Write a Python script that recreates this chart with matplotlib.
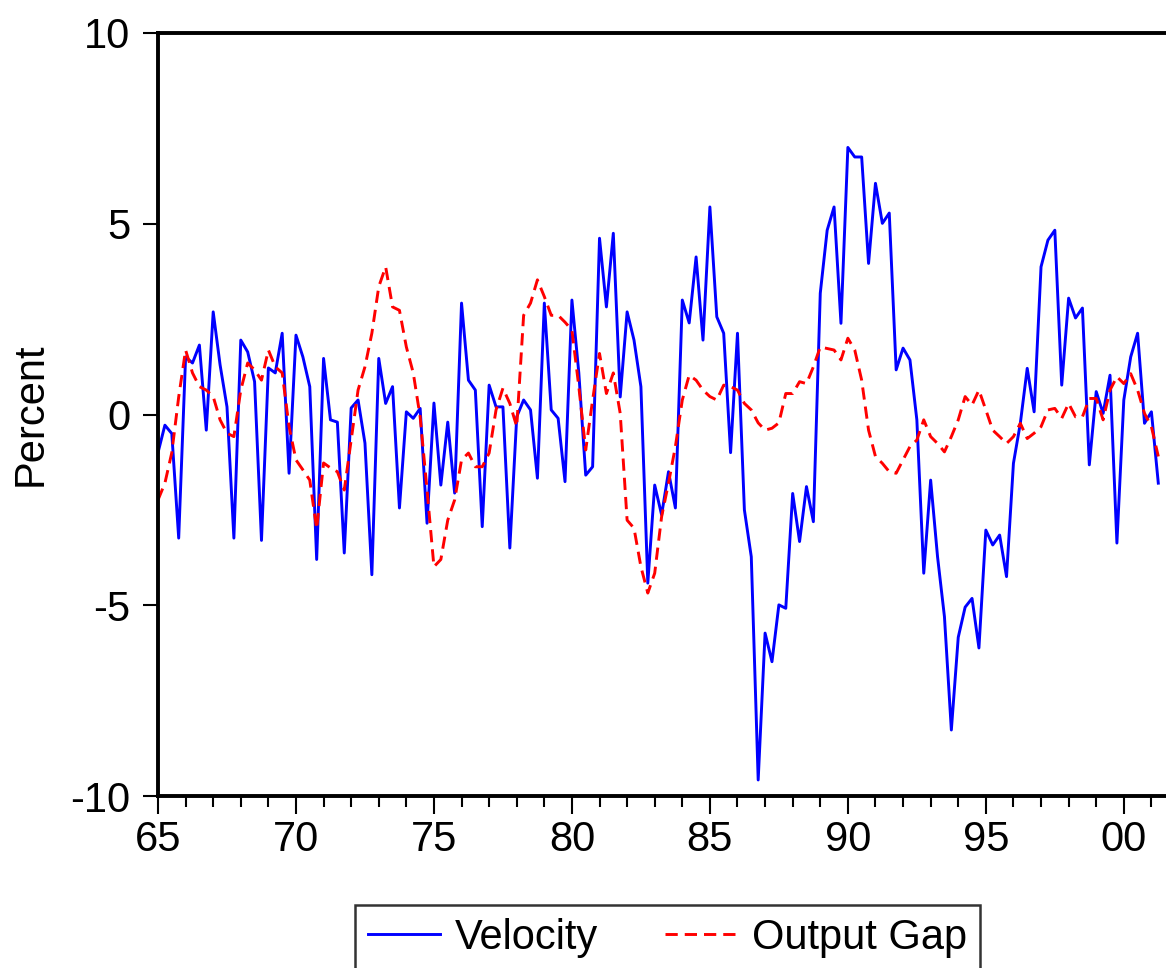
import numpy as np
import matplotlib
matplotlib.use('Agg')
import matplotlib.pyplot as plt

plt.rcParams['font.family'] = ['Liberation Sans', 'DejaVu Sans']

# quarterly data, 1965Q1 - 2001Q2
start_year = 1965
velocity = [
    -1.0, -0.28, -0.5, -3.24, 1.51, 1.35, 1.82, -0.41, 2.69, 1.3,
    0.2, -3.24, 1.95, 1.64, 0.86, -3.3, 1.22, 1.09, 2.13, -1.54,
    2.08, 1.51, 0.73, -3.8, 1.47, -0.14, -0.2, -3.63, 0.17, 0.38,
    -0.75, -4.2, 1.47, 0.29, 0.73, -2.45, 0.07, -0.1, 0.16, -2.85,
    0.3, -1.85, -0.2, -2.06, 2.92, 0.9, 0.64, -2.94, 0.77, 0.2,
    0.2, -3.5, -0.06, 0.38, 0.12, -1.67, 2.92, 0.12, -0.1, -1.76,
    3.0, 1.09, -1.59, -1.37, 4.62, 2.82, 4.75, 0.46, 2.69, 1.95,
    0.73, -4.42, -1.85, -2.63, -1.5, -2.45, 3.0, 2.4, 4.13, 1.95,
    5.44, 2.56, 2.13, -1.0, 2.13, -2.5, -3.73, -9.58, -5.73, -6.48,
    -4.99, -5.08, -2.07, -3.33, -1.89, -2.81, 3.18, 4.83, 5.44, 2.39,
    7.0, 6.75, 6.75, 3.96, 6.06, 5.01, 5.28, 1.17, 1.74, 1.43,
    -0.14, -4.16, -1.72, -3.73, -5.3, -8.27, -5.84, -5.05, -4.82, -6.12,
    -3.03, -3.42, -3.16, -4.25, -1.28, -0.23, 1.21, 0.07, 3.87, 4.57,
    4.83, 0.77, 3.05, 2.53, 2.79, -1.32, 0.6, 0.03, 1.03, -3.37,
    0.38, 1.51, 2.13, -0.23, 0.07, -1.8,
]
output_gap = [
    -2.24, -1.8, -1.0, 0.46, 1.69, 1.09, 0.73, 0.64, 0.47, -0.14,
    -0.49, -0.58, 0.64, 1.35, 1.17, 0.9, 1.69, 1.25, 1.09, -0.32,
    -1.19, -1.45, -1.72, -3.0, -1.27, -1.4, -1.5, -1.98, -0.67, 0.64,
    1.25, 2.13, 3.35, 3.87, 2.82, 2.73, 1.77, 1.09, -0.06, -1.98,
    -3.99, -3.8, -2.77, -2.24, -1.19, -1.01, -1.37, -1.37, -1.01, 0.12,
    0.69, 0.29, -0.32, 2.6, 2.92, 3.53, 3.09, 2.6, 2.6, 2.42,
    2.21, 0.73, -0.93, 0.38, 1.6, 0.55, 1.09, 0.03, -2.77, -2.98,
    -3.99, -4.68, -4.16, -2.68, -1.8, -0.84, 0.38, 1.03, 0.9, 0.64,
    0.47, 0.38, 0.77, 0.73, 0.64, 0.29, 0.12, -0.22, -0.41, -0.36,
    -0.22, 0.55, 0.55, 0.86, 0.81, 1.25, 1.77, 1.73, 1.69, 1.43,
    2.0, 1.69, 0.9, -0.41, -1.1, -1.28, -1.5, -1.54, -1.19, -0.84,
    -0.67, -0.14, -0.58, -0.76, -0.98, -0.58, -0.14, 0.47, 0.25, 0.64,
    0.12, -0.41, -0.58, -0.76, -0.58, -0.23, -0.63, -0.49, -0.32, 0.12,
    0.16, -0.1, 0.29, -0.06, -0.06, 0.42, 0.42, -0.14, 0.64, 0.99,
    0.81, 1.07, 0.64, 0.03, -0.32, -1.1,
]
x_ticks = [1965, 1970, 1975, 1980, 1985, 1990, 1995, 2000]
x_labels = ['65', '70', '75', '80', '85', '90', '95', '00']
y_ticks = [-10, -5, 0, 5, 10]
y_labels = ['-10', '-5', '0', '5', '10']

dates = start_year + np.arange(len(velocity)) / 4.0

fig = plt.figure(figsize=(11.66, 9.68), dpi=100)
# axes run past the right edge of the figure, like the cropped original
ax = fig.add_axes((158 / 1166, 172 / 968, 1021 / 1166, 763 / 968))

ax.plot(dates, velocity, color='#0000ff', lw=2.1, label='Velocity')
ax.plot(dates, output_gap, color='#ff0000', lw=2.1, ls=(0, (4.2, 2.4)),
        label='Output Gap')

ax.set_xlim(1965, 2002)
ax.set_ylim(-10, 10)
ax.set_xticks(x_ticks)
ax.set_xticklabels(x_labels)
ax.set_xticks(np.arange(1965, 2002), minor=True)
ax.set_yticks(y_ticks)
ax.set_yticklabels(y_labels)

for side in ['left', 'top', 'bottom', 'right']:
    ax.spines[side].set_linewidth(2.8)
ax.tick_params(axis='both', which='major', labelsize=30, width=1.5, direction='out')
ax.tick_params(axis='x', which='major', length=13, pad=4)
ax.tick_params(axis='x', which='minor', length=8, width=1.5)
ax.tick_params(axis='y', which='major', length=11, pad=9)

ax.set_ylabel('Percent', fontsize=30)
ax.yaxis.set_label_coords(-0.105, 0.5)

leg = fig.legend(loc='upper left', bbox_to_anchor=(355 / 1166, 63 / 968), ncol=2,
                 fontsize=30, frameon=True, fancybox=False, edgecolor='black',
                 handlelength=1.75, handletextpad=0.35, columnspacing=1.6,
                 borderpad=0.3, borderaxespad=0)
leg.get_frame().set_linewidth(1.8)

fig.savefig('out.png', dpi=100)
